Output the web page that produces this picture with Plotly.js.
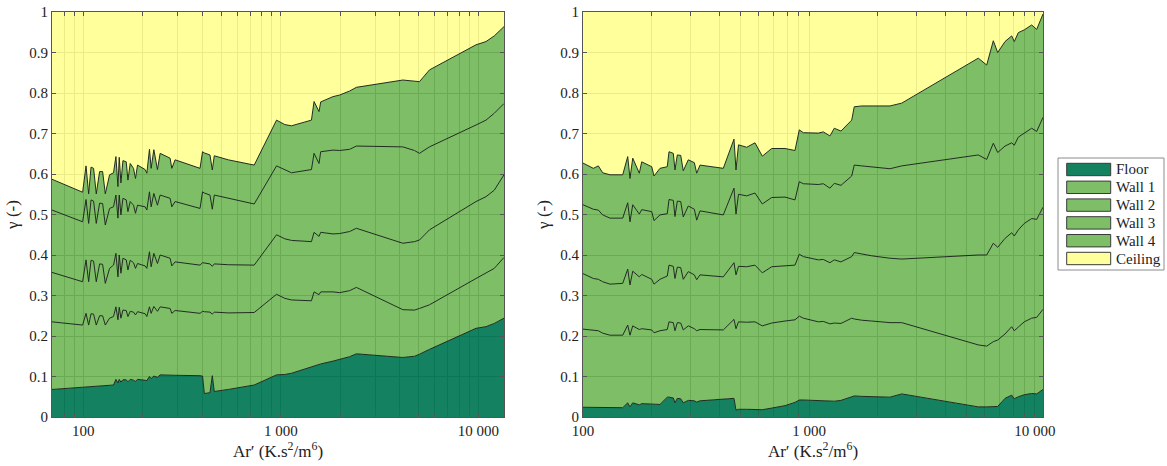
<!DOCTYPE html>
<html>
<head>
<meta charset="utf-8">
<script src="https://cdn.plot.ly/plotly-3.0.1.min.js"></script>
<style>html,body{margin:0;padding:0;background:#fff;}#chart{width:1167px;height:466px;}</style>
</head>
<body>
<div id="chart"></div>
<script>
// ---- Data: cumulative upper edge of each surface band (share of total, 0..1) ----
// Left panel
const leftX = [69.4, 99.2, 103.2, 106.4, 109.4, 112.7, 116.3, 120.9, 125.2, 129.2, 135.8, 142.2, 146.2, 149.7, 152.0, 155.0, 158.7, 164.9, 168.2, 172.8, 179.5, 183.7, 188.1, 205.6, 209.7, 216.2, 220.5, 227.5, 237.3, 244.9, 275.0, 280.5, 291.5, 389.9, 401.4, 410.0, 437.8, 449.8, 460.3, 541.9, 733.0, 951.3, 1047.6, 1132.5, 1429, 1473, 1561, 1592, 1837, 1986, 2232, 2412, 4147, 4751, 5035, 5656, 9736, 10937, 12043, 13490];
const leftFloor = [0.068, 0.073, 0.074, 0.074, 0.075, 0.075, 0.075, 0.076, 0.076, 0.076, 0.077, 0.079, 0.093, 0.084, 0.093, 0.086, 0.092, 0.092, 0.087, 0.093, 0.091, 0.088, 0.093, 0.092, 0.090, 0.100, 0.095, 0.101, 0.098, 0.104, 0.104, 0.103, 0.103, 0.102, 0.101, 0.058, 0.060, 0.102, 0.063, 0.068, 0.079, 0.104, 0.105, 0.108, 0.123, 0.126, 0.130, 0.131, 0.138, 0.142, 0.149, 0.156, 0.147, 0.150, 0.155, 0.167, 0.219, 0.223, 0.231, 0.244];
const leftWall1 = [0.235, 0.227, 0.256, 0.227, 0.255, 0.254, 0.227, 0.250, 0.250, 0.227, 0.244, 0.248, 0.272, 0.240, 0.271, 0.244, 0.264, 0.263, 0.248, 0.261, 0.259, 0.252, 0.260, 0.255, 0.248, 0.272, 0.256, 0.273, 0.261, 0.272, 0.268, 0.256, 0.263, 0.256, 0.261, 0.260, 0.259, 0.254, 0.259, 0.257, 0.258, 0.303, 0.293, 0.289, 0.287, 0.309, 0.302, 0.309, 0.309, 0.307, 0.312, 0.320, 0.265, 0.264, 0.268, 0.277, 0.342, 0.355, 0.367, 0.394];
const leftWall2 = [0.357, 0.334, 0.388, 0.334, 0.387, 0.385, 0.334, 0.378, 0.377, 0.330, 0.367, 0.375, 0.404, 0.346, 0.400, 0.355, 0.392, 0.388, 0.363, 0.387, 0.381, 0.367, 0.379, 0.373, 0.367, 0.408, 0.371, 0.404, 0.379, 0.400, 0.392, 0.373, 0.383, 0.375, 0.381, 0.380, 0.378, 0.372, 0.378, 0.376, 0.375, 0.450, 0.440, 0.436, 0.433, 0.456, 0.446, 0.456, 0.452, 0.453, 0.458, 0.466, 0.429, 0.433, 0.437, 0.462, 0.532, 0.544, 0.560, 0.598];
const leftWall3 = [0.511, 0.482, 0.537, 0.478, 0.536, 0.533, 0.478, 0.528, 0.527, 0.474, 0.515, 0.519, 0.548, 0.491, 0.548, 0.499, 0.540, 0.536, 0.507, 0.532, 0.523, 0.503, 0.523, 0.519, 0.511, 0.556, 0.519, 0.552, 0.523, 0.548, 0.540, 0.519, 0.532, 0.515, 0.556, 0.553, 0.548, 0.513, 0.548, 0.540, 0.526, 0.620, 0.610, 0.603, 0.611, 0.651, 0.626, 0.655, 0.659, 0.658, 0.661, 0.669, 0.667, 0.658, 0.651, 0.667, 0.721, 0.733, 0.750, 0.774];
const leftWall4 = [0.587, 0.555, 0.620, 0.551, 0.617, 0.614, 0.551, 0.606, 0.606, 0.551, 0.598, 0.603, 0.643, 0.569, 0.641, 0.578, 0.633, 0.630, 0.585, 0.626, 0.614, 0.589, 0.622, 0.611, 0.602, 0.661, 0.614, 0.660, 0.611, 0.651, 0.639, 0.614, 0.635, 0.614, 0.655, 0.652, 0.647, 0.610, 0.645, 0.635, 0.622, 0.733, 0.722, 0.719, 0.733, 0.779, 0.754, 0.778, 0.791, 0.795, 0.805, 0.814, 0.832, 0.829, 0.828, 0.857, 0.919, 0.927, 0.941, 0.964];

// Right panel
const rightX = [100, 111.1, 116.9, 122.2, 131.7, 149.9, 157.7, 161.4, 166.0, 177.5, 181.9, 201.4, 206.2, 219.1, 236.0, 240.2, 250.9, 255.3, 261.4, 270.6, 277.8, 292.4, 310.9, 318.5, 329.4, 417.7, 465.7, 475.3, 487.6, 530.1, 576.8, 621.5, 683.9, 783.3, 867.0, 906.0, 943.6, 1099.6, 1157, 1238, 1294, 1385, 1545, 1586, 1711, 1894, 2282, 2572, 5611, 6113, 6539, 6839, 7368, 7887, 8099, 8435, 8968, 9670, 10175, 10850];
const rightFloor = [0.024, 0.024, 0.024, 0.023, 0.023, 0.023, 0.035, 0.025, 0.035, 0.030, 0.033, 0.032, 0.030, 0.031, 0.049, 0.049, 0.047, 0.035, 0.046, 0.045, 0.035, 0.041, 0.040, 0.037, 0.040, 0.044, 0.046, 0.017, 0.019, 0.019, 0.018, 0.018, 0.022, 0.028, 0.036, 0.042, 0.042, 0.040, 0.040, 0.038, 0.039, 0.041, 0.050, 0.052, 0.051, 0.050, 0.049, 0.057, 0.025, 0.025, 0.025, 0.026, 0.046, 0.054, 0.045, 0.050, 0.055, 0.058, 0.057, 0.068];
const rightWall1 = [0.217, 0.214, 0.213, 0.207, 0.202, 0.202, 0.227, 0.202, 0.225, 0.216, 0.218, 0.215, 0.208, 0.213, 0.216, 0.235, 0.233, 0.213, 0.233, 0.232, 0.215, 0.225, 0.218, 0.213, 0.216, 0.215, 0.241, 0.218, 0.235, 0.234, 0.235, 0.225, 0.232, 0.237, 0.240, 0.249, 0.244, 0.235, 0.236, 0.230, 0.232, 0.231, 0.244, 0.242, 0.239, 0.237, 0.233, 0.233, 0.178, 0.175, 0.186, 0.190, 0.205, 0.223, 0.213, 0.222, 0.235, 0.244, 0.246, 0.266];
const rightWall2 = [0.354, 0.342, 0.340, 0.334, 0.328, 0.330, 0.365, 0.326, 0.360, 0.346, 0.352, 0.340, 0.328, 0.340, 0.348, 0.375, 0.372, 0.342, 0.370, 0.369, 0.340, 0.359, 0.351, 0.339, 0.351, 0.346, 0.381, 0.351, 0.372, 0.371, 0.375, 0.356, 0.371, 0.374, 0.375, 0.402, 0.396, 0.388, 0.389, 0.381, 0.388, 0.383, 0.396, 0.406, 0.402, 0.398, 0.392, 0.390, 0.400, 0.400, 0.429, 0.419, 0.441, 0.455, 0.447, 0.462, 0.478, 0.490, 0.488, 0.518];
const rightWall3 = [0.524, 0.513, 0.511, 0.499, 0.491, 0.491, 0.529, 0.482, 0.524, 0.501, 0.512, 0.507, 0.485, 0.499, 0.502, 0.537, 0.535, 0.495, 0.533, 0.532, 0.494, 0.521, 0.513, 0.486, 0.509, 0.499, 0.565, 0.501, 0.550, 0.546, 0.553, 0.526, 0.542, 0.543, 0.536, 0.581, 0.576, 0.574, 0.576, 0.565, 0.577, 0.572, 0.595, 0.622, 0.620, 0.618, 0.613, 0.620, 0.647, 0.636, 0.676, 0.653, 0.669, 0.677, 0.671, 0.691, 0.700, 0.713, 0.705, 0.740];
const rightWall4 = [0.627, 0.614, 0.620, 0.603, 0.598, 0.598, 0.643, 0.589, 0.639, 0.602, 0.630, 0.618, 0.595, 0.614, 0.618, 0.655, 0.651, 0.610, 0.647, 0.646, 0.608, 0.635, 0.628, 0.602, 0.622, 0.614, 0.686, 0.610, 0.672, 0.666, 0.677, 0.644, 0.663, 0.663, 0.658, 0.709, 0.702, 0.701, 0.704, 0.694, 0.713, 0.706, 0.733, 0.766, 0.768, 0.768, 0.768, 0.775, 0.886, 0.869, 0.929, 0.900, 0.927, 0.941, 0.927, 0.949, 0.956, 0.968, 0.957, 0.995];

// Ceiling band reaches the total (1) at both ends of each panel
const ceilingTop = [1, 1];

const seriesNames = ['Floor', 'Wall 1', 'Wall 2', 'Wall 3', 'Wall 4', 'Ceiling'];
const xTickVals = [100, 1000, 10000];
const xTickText = ['100', '1 000', '10 000'];
const xMinorVals = [70, 80, 90, 200, 300, 400, 500, 600, 700, 800, 900, 2000, 3000, 4000, 5000, 6000, 7000, 8000, 9000];

// ---- Styling ----
const FLOOR = 'rgba(0,118,84,0.92)';
const WALL = 'rgba(102,179,76,0.85)';
const CEIL = 'rgba(255,255,137,0.85)';
const SWATCH = ['#14815f', '#7dbe67', '#7dbe67', '#7dbe67', '#7dbe67', '#ffff9b'];
const EDGE = '#1f2b1f';
const FONT = 'Liberation Serif, serif';
const W = 1167, H = 466;

function panel(xv, bands, xa, ya) {
  const fills = [FLOOR, WALL, WALL, WALL, WALL];
  const tr = bands.map((y, i) => ({
    type: 'scatter', mode: 'lines', x: xv, y: y,
    name: seriesNames[i], showlegend: false,
    fill: i === 0 ? 'tozeroy' : 'tonexty', fillcolor: fills[i],
    line: {color: EDGE, width: 1}, xaxis: xa, yaxis: ya, hoverinfo: 'skip'
  }));
  tr.push({
    type: 'scatter', mode: 'lines', x: [xv[0], xv[xv.length - 1]], y: ceilingTop,
    name: seriesNames[5], showlegend: false,
    fill: 'tonexty', fillcolor: CEIL, line: {color: 'rgba(0,0,0,0)', width: 0},
    xaxis: xa, yaxis: ya, hoverinfo: 'skip'
  });
  return tr;
}

const data = [].concat(
  panel(leftX, [leftFloor, leftWall1, leftWall2, leftWall3, leftWall4], 'x', 'y'),
  panel(rightX, [rightFloor, rightWall1, rightWall2, rightWall3, rightWall4], 'x2', 'y2')
);

function xAxis(domain, range, anchor) {
  return {
    type: 'log', domain: domain, range: range, anchor: anchor,
    tickmode: 'array', tickvals: xTickVals, ticktext: xTickText,
    ticks: 'inside', ticklen: 4, tickcolor: '#555', showline: true, linecolor: '#555', mirror: 'ticks',
    showgrid: true, gridcolor: '#7a7a7a', gridwidth: 1, zeroline: false,
    minor: {tickmode: 'array', tickvals: xMinorVals, ticks: 'inside', ticklen: 4, tickcolor: '#555', showgrid: true, gridcolor: '#7a7a7a', gridwidth: 1},
    tickfont: {family: FONT, size: 15, color: '#222'},
    title: {text: 'Ar\u2032 (K.s<sup>2</sup>/m<sup>6</sup>)', font: {family: FONT, size: 17, color: '#222'}, standoff: 4},
    automargin: false, fixedrange: true
  };
}
function yAxis(anchor) {
  return {
    domain: [49 / H, 454 / H], range: [0, 1], anchor: anchor,
    tickmode: 'linear', tick0: 0, dtick: 0.1,
    ticks: 'inside', ticklen: 4, tickcolor: '#555', showline: true, linecolor: '#555', mirror: 'ticks',
    showgrid: true, gridcolor: '#7a7a7a', gridwidth: 1, zeroline: false,
    tickfont: {family: FONT, size: 15, color: '#222'},
    title: {text: '\u03b3 (-)', font: {family: FONT, size: 17, color: '#222'}, standoff: 6},
    automargin: false, fixedrange: true
  };
}

// Legend drawn as boxes + text in paper coordinates
const shapes = [{
  type: 'rect', xref: 'paper', yref: 'paper',
  x0: 1058 / W, x1: 1164 / W, y0: 1 - 270 / H, y1: 1 - 158 / H,
  line: {color: '#8c8c8c', width: 1}, fillcolor: '#ffffff', layer: 'above'
}];
const annotations = [];
seriesNames.forEach((name, i) => {
  const top = 163.3 + i * 17.8, bot = top + 12.4;
  shapes.push({
    type: 'rect', xref: 'paper', yref: 'paper',
    x0: 1066.7 / W, x1: 1110.7 / W, y0: 1 - bot / H, y1: 1 - top / H,
    line: {color: '#3a3a3a', width: 1}, fillcolor: SWATCH[i], layer: 'above'
  });
  annotations.push({
    xref: 'paper', yref: 'paper', x: 1114 / W, y: 1 - (top + bot) / 2 / H,
    xanchor: 'left', yanchor: 'middle', showarrow: false, text: name,
    font: {family: FONT, size: 15, color: '#222'}
  });
});

const layout = {
  width: W, height: H,
  margin: {l: 0, r: 0, t: 0, b: 0},
  paper_bgcolor: '#ffffff', plot_bgcolor: '#ffffff',
  font: {family: FONT, size: 15, color: '#222'},
  xaxis: xAxis([52 / W, 504 / W], [Math.log10(69.4), Math.log10(13490)], 'y'),
  yaxis: yAxis('x'),
  xaxis2: xAxis([583 / W, 1043 / W], [2, Math.log10(10850)], 'y2'),
  yaxis2: yAxis('x2'),
  showlegend: false,
  shapes: shapes,
  annotations: annotations
};

Plotly.newPlot('chart', data, layout, {displayModeBar: false, staticPlot: true});
</script>
</body>
</html>
